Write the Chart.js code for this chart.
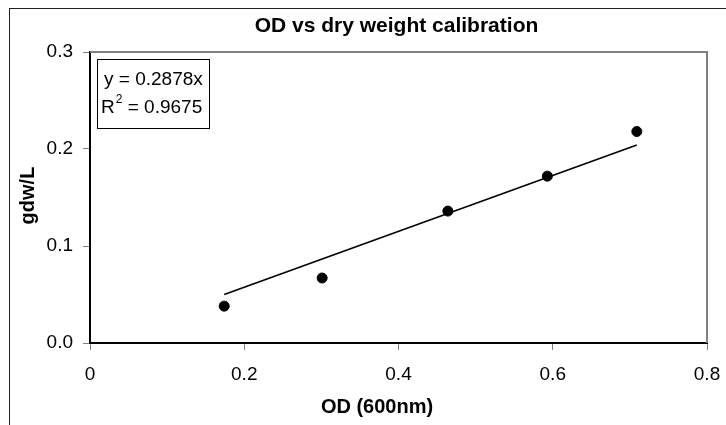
<!DOCTYPE html>
<html>
<head>
<meta charset="utf-8">
<title>OD vs dry weight calibration</title>
<script src="https://cdn.jsdelivr.net/npm/chart.js@4/dist/chart.umd.min.js"></script>
<style>
  html, body { margin: 0; padding: 0; background: #fff; }
  canvas { display: block; }
</style>
</head>
<body>
<canvas id="chart" width="726" height="425"></canvas>
<script>
// calibration samples
const odValues = [0.174, 0.301, 0.464, 0.593, 0.709];
const gdwValues = [0.038, 0.067, 0.136, 0.172, 0.218];

// trendline through the origin
const slope = 0.2878;
const rSquared = 0.9675;

const xTickValues = [0, 0.2, 0.4, 0.6, 0.8];
const yTickValues = [0, 0.1, 0.2, 0.3];

const chartTitle = 'OD vs dry weight calibration';
const xTitle = 'OD (600nm)';
const yTitle = 'gdw/L';

const FONT = '"Liberation Sans", Arial, sans-serif';

const points = odValues.map((x, i) => ({ x: x, y: gdwValues[i] }));
const xMin = Math.min(...odValues);
const xMax = Math.max(...odValues);
const trend = [
    { x: xMin, y: slope * xMin },
    { x: xMax, y: slope * xMax },
];

// frame, titles and equation box drawn straight on the canvas
const decorations = {
    id: 'decorations',
    beforeDraw(chart) {
        const ctx = chart.ctx;
        ctx.save();
        ctx.fillStyle = '#fff';
        ctx.fillRect(0, 0, chart.width, chart.height);
        ctx.strokeStyle = '#222';
        ctx.lineWidth = 1;
        ctx.strokeRect(9.5, 8.5, chart.width + 20, chart.height + 20);
        ctx.restore();
    },
    beforeDatasetsDraw(chart) {
        const { ctx, chartArea } = chart;
        ctx.save();
        ctx.strokeStyle = '#808080';
        ctx.lineWidth = 2;
        ctx.beginPath();
        ctx.moveTo(chartArea.left, chartArea.top);
        ctx.lineTo(chartArea.right, chartArea.top);
        ctx.lineTo(chartArea.right, chartArea.bottom);
        ctx.stroke();
        ctx.restore();
    },
    afterDraw(chart) {
        const { ctx, chartArea } = chart;
        ctx.save();
        ctx.fillStyle = '#000';
        ctx.textAlign = 'center';
        ctx.textBaseline = 'middle';

        ctx.font = 'bold 21px ' + FONT;
        ctx.fillText(chartTitle, (chartArea.left + chartArea.right) / 2 - 2, 26);

        ctx.font = 'bold 20px ' + FONT;
        ctx.fillText(xTitle, 377, 407);

        ctx.save();
        ctx.translate(28, (chartArea.top + chartArea.bottom) / 2 - 2);
        ctx.rotate(-Math.PI / 2);
        ctx.fillText(yTitle, 0, 0);
        ctx.restore();

        // equation box
        ctx.strokeStyle = '#000';
        ctx.lineWidth = 1;
        ctx.strokeRect(97.5, 59.5, 112, 69);
        ctx.textAlign = 'left';
        ctx.font = '19px ' + FONT;
        ctx.fillText('y = ' + slope.toFixed(4) + 'x', 104, 80);
        ctx.fillText('R', 101, 108);
        const rw = ctx.measureText('R').width;
        ctx.font = '12px ' + FONT;
        ctx.fillText('2', 101 + rw + 1, 100);
        ctx.font = '19px ' + FONT;
        ctx.fillText('= ' + rSquared.toFixed(4), 101 + rw + 13, 108);
        ctx.restore();
    }
};

new Chart(document.getElementById('chart'), {
    type: 'scatter',
    data: {
        datasets: [
            {
                label: 'gdw/L',
                data: points,
                backgroundColor: '#000',
                borderColor: '#000',
                pointRadius: 5,
                pointHoverRadius: 5,
            },
            {
                type: 'line',
                label: 'Linear fit',
                data: trend,
                borderColor: '#000',
                borderWidth: 1.6,
                pointRadius: 0,
                fill: false,
            },
        ],
    },
    options: {
        responsive: false,
        animation: false,
        layout: { padding: { top: 52, right: 19, left: 0, bottom: 0 } },
        plugins: {
            legend: { display: false },
            tooltip: { enabled: false },
        },
        scales: {
            x: {
                type: 'linear',
                min: 0,
                max: 0.8,
                afterFit: (scale) => {
                    scale.height = 82;
                    scale.paddingLeft = 0;
                    scale.paddingRight = 0;
                },
                afterBuildTicks: (scale) => { scale.ticks = xTickValues.map(v => ({ value: v })); },
                ticks: {
                    color: '#000',
                    font: { family: FONT, size: 19 },
                    padding: 13,
                    maxRotation: 0,
                    callback: (v) => (v === 0 ? '0' : v.toFixed(1)),
                },
                grid: { drawOnChartArea: false, tickLength: 7, color: '#808080' },
                border: { color: '#000', width: 2 },
            },
            y: {
                type: 'linear',
                min: 0,
                max: 0.3,
                afterFit: (scale) => {
                    scale.width = 90;
                    scale.paddingTop = 0;
                    scale.paddingBottom = 0;
                },
                afterBuildTicks: (scale) => { scale.ticks = yTickValues.map(v => ({ value: v })); },
                ticks: {
                    color: '#000',
                    font: { family: FONT, size: 19 },
                    padding: 10,
                    callback: (v) => v.toFixed(1),
                },
                grid: { drawOnChartArea: false, tickLength: 7, color: '#808080' },
                border: { color: '#000', width: 2 },
            },
        },
    },
    plugins: [decorations],
});
</script>
</body>
</html>
